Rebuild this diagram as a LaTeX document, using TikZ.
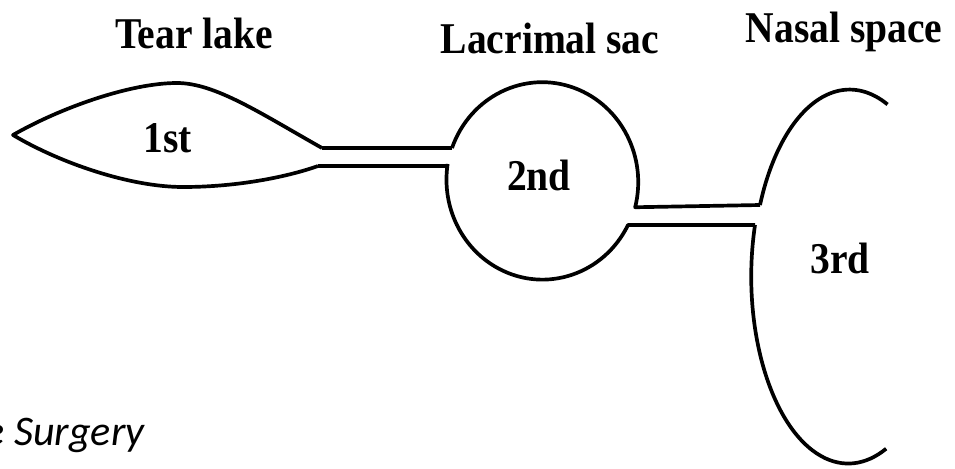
\documentclass[tikz,border=0pt]{standalone}
\usepackage{fontspec}
\setmainfont{Liberation Serif}
\newfontfamily\capfont{Carlito}
\usepackage{tikz}
\usetikzlibrary{calc,positioning}

\tikzset{
    wall/.style={line width=2.1pt, line join=round},
    label/.style={font=\bfseries\fontsize{25}{28}\selectfont, inner sep=0pt, anchor=base, xscale=0.9, transform shape}
}

\begin{document}
\begin{tikzpicture}[x=0.02cm, y=0.02cm]
            \useasboundingbox (0,0) rectangle (955,468);

            % Titles
            \node[label] (tearlabel) at (194,420) {Tear lake};
            \node[label] (saclabel) at (550,415) {Lacrimal sac};
            \node[label] (nasallabel) at (844,426) {Nasal space};

            % Tear lake (1st)
            \draw[wall] (322,320) .. controls (260,355) and (215,385) .. (177,385)
                        .. controls (130,385) and (60,360) .. (13,333)
                        .. controls (60,305) and (130,281) .. (183,281)
                        .. controls (240,281) and (290,292) .. (318,302);
            \node[label] (first) at (168,316) {1st};

            % Canal between lake and sac
            \draw[wall] (322,320) -- (452,320);
            \draw[wall] (318,302) -- (446,302);

            % Lacrimal sac (2nd)
            \draw[wall] (452,320) arc (160:-14.5:96 and 100) -- (760,263);
            \draw[wall] (755,243) -- (628,243) arc (-27:-189:96 and 100);
            \node[label] (second) at (539,278) {2nd};

            % Nasal space (3rd)
            \draw[wall] (760,263) arc (157.5:67:97 and 187);
            \draw[wall] (755,243) arc (164:293:97 and 187);
            \node[label] (third) at (840,195) {3rd};

            % Caption fragment
            \node[font=\capfont\itshape\fontsize{24}{27}\selectfont, inner sep=0pt, anchor=base west] (caption) at (-16,23) {e Surgery};
\end{tikzpicture}
\end{document}
